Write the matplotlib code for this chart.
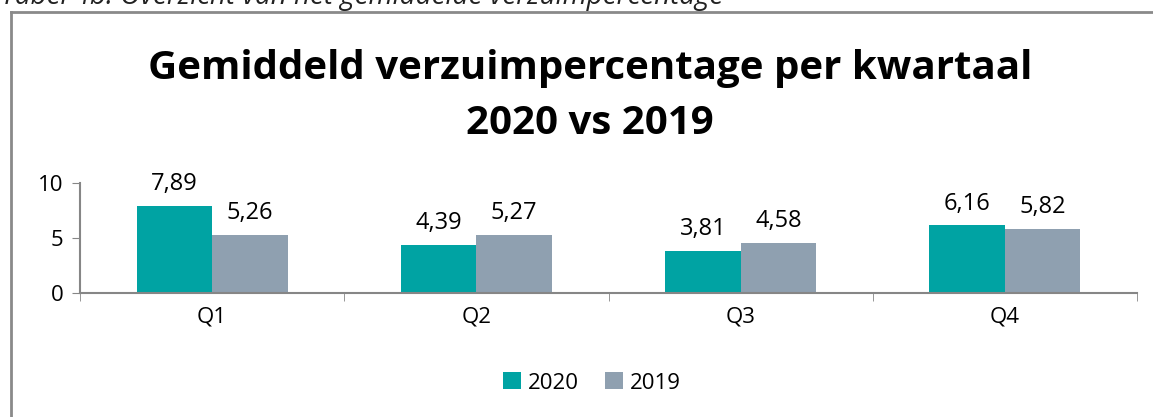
import numpy as np
import matplotlib
matplotlib.use("Agg")
import matplotlib.pyplot as plt
from matplotlib.lines import Line2D

# Gegevens uit de grafiek
kwartalen = ["Q1", "Q2", "Q3", "Q4"]
waarden_2020 = [7.89, 4.39, 3.81, 6.16]
waarden_2019 = [5.26, 5.27, 4.58, 5.82]
jaren = ["2020", "2019"]
y_ticks = [0, 5, 10]

kleur_2020 = "#00A3A3"
kleur_2019 = "#8FA0B0"
as_kleur = "#868686"

plt.rcParams["font.family"] = ["Open Sans", "DejaVu Sans"]

W, H = 1153, 417
fig = plt.figure(figsize=(W / 100, H / 100), dpi=100)

# kader rond de grafiek (rechts en onder vallen buiten beeld)
fig.add_artist(Line2D([11 / W, 11 / W], [0, 1 - 12 / H], color="#8a8a8a", lw=2))
fig.add_artist(Line2D([11 / W, 1], [1 - 12 / H, 1 - 12 / H], color="#8a8a8a", lw=2))

# bijschrift bovenaan, deels afgesneden
fig.text(1 / W, 1 - 4 / H, "Tabel 4b: Overzicht van het gemiddelde verzuimpercentage",
         fontsize=20, style="italic", color="#222222", va="baseline", ha="left")

# titel
fig.text(590 / W, 1 - 68 / H, "Gemiddeld verzuimpercentage per kwartaal",
         fontsize=29, fontweight="bold", ha="center", va="center")
fig.text(590 / W, 1 - 123 / H, "2020 vs 2019",
         fontsize=29, fontweight="bold", ha="center", va="center")

ax = fig.add_axes([80 / W, 1 - 293 / H, (1137 - 80) / W, (293 - 183) / H])

x = np.arange(len(kwartalen))
breedte = 0.286
b1 = ax.bar(x - breedte / 2, waarden_2020, breedte, color=kleur_2020, label=jaren[0])
b2 = ax.bar(x + breedte / 2, waarden_2019, breedte, color=kleur_2019, label=jaren[1])

for balken in (b1, b2):
    for b in balken:
        v = b.get_height()
        ax.annotate(f"{v:.2f}".replace(".", ","), (b.get_x() + b.get_width() / 2, v),
                    xytext=(0, 7), textcoords="offset points",
                    ha="center", va="bottom", fontsize=17)

ax.set_xlim(-0.5, len(kwartalen) - 0.5)
ax.set_ylim(0, 10)
ax.set_yticks(y_ticks)
ax.tick_params(axis="y", labelsize=16, length=6, color=as_kleur, pad=6)
ax.set_xticks(x)
ax.set_xticklabels(kwartalen)
ax.tick_params(axis="x", labelsize=16, length=0, pad=10)
ax.set_xticks(np.arange(len(kwartalen) + 1) - 0.5, minor=True)
ax.tick_params(axis="x", which="minor", length=6, color=as_kleur)
for s in ["top", "right"]:
    ax.spines[s].set_visible(False)
for s in ["left", "bottom"]:
    ax.spines[s].set_color(as_kleur)
    ax.spines[s].set_linewidth(1.5)

fig.legend(handles=[b1, b2], labels=jaren, loc="center",
           bbox_to_anchor=(592 / W, 1 - 383 / H), ncol=2, frameon=False,
           fontsize=16, handlelength=0.8, handleheight=0.8, handletextpad=0.3,
           columnspacing=1.2)

fig.savefig("out.png", dpi=100)
